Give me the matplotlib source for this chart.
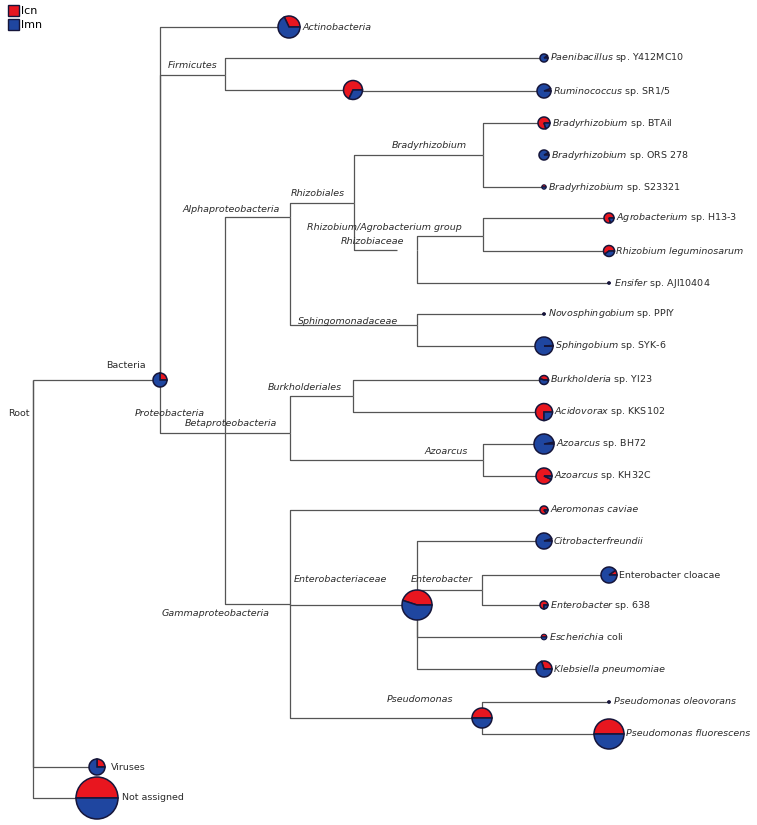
import matplotlib
matplotlib.use("Agg")
import matplotlib.pyplot as plt
from matplotlib.patches import Wedge, Patch

# ---------------- data ----------------
# taxonomy nodes (id -> parent id)
parents = {
    "Bacteria": "Root", "Viruses": "Root", "Not assigned": "Root",
    "Actinobacteria": "Bacteria", "Firmicutes": "Bacteria", "Proteobacteria": "Bacteria",
    "Paenibacillus": "Firmicutes", "FirmSub": "Firmicutes", "Ruminococcus": "FirmSub",
    "Alphaproteobacteria": "Proteobacteria", "Betaproteobacteria": "Proteobacteria",
    "Gammaproteobacteria": "Proteobacteria",
    "Rhizobiales": "Alphaproteobacteria", "Sphingomonadaceae": "Alphaproteobacteria",
    "Bradyrhizobium": "Rhizobiales", "RhizAgroGroup": "Rhizobiales",
    "BradyBTAil": "Bradyrhizobium", "BradyORS278": "Bradyrhizobium", "BradyS23321": "Bradyrhizobium",
    "Rhizobiaceae": "RhizAgroGroup", "RhizSub": "Rhizobiaceae", "Ensifer": "Rhizobiaceae",
    "Agrobacterium": "RhizSub", "RhizLeg": "RhizSub",
    "Novosphingobium": "Sphingomonadaceae", "Sphingobium": "Sphingomonadaceae",
    "Burkholderiales": "Betaproteobacteria", "Azoarcus": "Betaproteobacteria",
    "Burkholderia": "Burkholderiales", "Acidovorax": "Burkholderiales",
    "AzoBH72": "Azoarcus", "AzoKH32C": "Azoarcus",
    "Aeromonas": "Gammaproteobacteria", "Enterobacteriaceae": "Gammaproteobacteria",
    "Pseudomonas": "Gammaproteobacteria",
    "Citrobacter": "Enterobacteriaceae", "Enterobacter": "Enterobacteriaceae",
    "Ecoli": "Enterobacteriaceae", "Klebsiella": "Enterobacteriaceae",
    "EntCloacae": "Enterobacter", "Ent638": "Enterobacter",
    "PsOleovorans": "Pseudomonas", "PsFluorescens": "Pseudomonas",
}

# fraction of lcn (red) in each pie; remainder is lmn (blue)
pie_nodes = ["Bacteria", "Actinobacteria", "FirmSub", "Paenibacillus", "Ruminococcus",
             "BradyBTAil", "BradyORS278", "BradyS23321", "Agrobacterium", "RhizLeg", "Ensifer",
             "Novosphingobium", "Sphingobium", "Burkholderia", "Acidovorax", "AzoBH72", "AzoKH32C",
             "Aeromonas", "Enterobacteriaceae", "Citrobacter", "EntCloacae", "Ent638", "Ecoli",
             "Klebsiella", "Pseudomonas", "PsOleovorans", "PsFluorescens", "Viruses", "Not assigned"]
lcn_frac = [0.25, 0.32, 0.68, 0.10, 0.06,
            0.80, 0.08, 0.50, 0.80, 0.60, 0.50,
            0.50, 0.01, 0.45, 0.75, 0.03, 0.93,
            0.85, 0.45, 0.05, 0.10, 0.75, 0.50,
            0.30, 0.50, 0.50, 0.50, 0.25, 0.50]

# leaf labels: (italic part, roman part)
leaf_labels = {
    "Actinobacteria": ("Actinobacteria", ""),
    "Paenibacillus": ("Paenibacillus", "sp. Y412MC10"),
    "Ruminococcus": ("Ruminococcus", "sp. SR1/5"),
    "BradyBTAil": ("Bradyrhizobium", "sp. BTAil"),
    "BradyORS278": ("Bradyrhizobium", "sp. ORS 278"),
    "BradyS23321": ("Bradyrhizobium", "sp. S23321"),
    "Agrobacterium": ("Agrobacterium", "sp. H13-3"),
    "RhizLeg": ("Rhizobium leguminosarum", ""),
    "Ensifer": ("Ensifer", "sp. AJI10404"),
    "Novosphingobium": ("Novosphingobium", "sp. PPlY"),
    "Sphingobium": ("Sphingobium", "sp. SYK-6"),
    "Burkholderia": ("Burkholderia", "sp. YI23"),
    "Acidovorax": ("Acidovorax", "sp. KKS102"),
    "AzoBH72": ("Azoarcus", "sp. BH72"),
    "AzoKH32C": ("Azoarcus", "sp. KH32C"),
    "Aeromonas": ("Aeromonas caviae", ""),
    "Citrobacter": ("Citrobacterfreundii", ""),
    "EntCloacae": ("", "Enterobacter cloacae"),
    "Ent638": ("Enterobacter", "sp. 638"),
    "Ecoli": ("Escherichia", "coli"),
    "Klebsiella": ("Klebsiella pneumomiae", ""),
    "PsOleovorans": ("Pseudomonas oleovorans", ""),
    "PsFluorescens": ("Pseudomonas fluorescens", ""),
    "Viruses": ("", "Viruses"),
    "Not assigned": ("", "Not assigned"),
}

# internal node labels: text, italic?
inner_labels = {
    "Root": ("Root", False), "Bacteria": ("Bacteria", False),
    "Firmicutes": ("Firmicutes", True), "Proteobacteria": ("Proteobacteria", True),
    "Alphaproteobacteria": ("Alphaproteobacteria", True), "Rhizobiales": ("Rhizobiales", True),
    "Bradyrhizobium": ("Bradyrhizobium", True),
    "RhizAgroGroup": ("Rhizobium/Agrobacterium group", True), "Rhizobiaceae": ("Rhizobiaceae", True),
    "Sphingomonadaceae": ("Sphingomonadaceae", True),
    "Betaproteobacteria": ("Betaproteobacteria", True), "Burkholderiales": ("Burkholderiales", True),
    "Azoarcus": ("Azoarcus", True), "Gammaproteobacteria": ("Gammaproteobacteria", True),
    "Enterobacteriaceae": ("Enterobacteriaceae", True), "Enterobacter": ("Enterobacter", True),
    "Pseudomonas": ("Pseudomonas", True),
}

legend_labels = ["lcn", "lmn"]

# ---------------- layout (pixel positions) ----------------
pos = {
    "Root": (33, 380), "Bacteria": (160, 380), "Actinobacteria": (289, 27),
    "Firmicutes": (225, 75), "FirmSub": (353, 90), "Paenibacillus": (544, 58), "Ruminococcus": (544, 91),
    "Proteobacteria": (225, 433), "Alphaproteobacteria": (290, 217), "Rhizobiales": (354, 203),
    "Bradyrhizobium": (483, 155), "BradyBTAil": (544, 123), "BradyORS278": (544, 155), "BradyS23321": (544, 187),
    "RhizAgroGroup": (397, 250), "Rhizobiaceae": (417, 250), "RhizSub": (483, 236),
    "Agrobacterium": (609, 218), "RhizLeg": (609, 251), "Ensifer": (609, 283),
    "Sphingomonadaceae": (417, 325), "Novosphingobium": (544, 314), "Sphingobium": (544, 346),
    "Betaproteobacteria": (290, 433), "Burkholderiales": (353, 396),
    "Burkholderia": (544, 380), "Acidovorax": (544, 412),
    "Azoarcus": (483, 460), "AzoBH72": (544, 444), "AzoKH32C": (544, 476),
    "Gammaproteobacteria": (290, 604), "Aeromonas": (544, 510), "Enterobacteriaceae": (417, 605),
    "Citrobacter": (544, 541), "Enterobacter": (482, 590), "EntCloacae": (609, 575), "Ent638": (544, 605),
    "Ecoli": (544, 637), "Klebsiella": (544, 669),
    "Pseudomonas": (482, 718), "PsOleovorans": (609, 702), "PsFluorescens": (609, 734),
    "Viruses": (97, 767), "Not assigned": (97, 798),
}
radius = {
    "Bacteria": 7, "Actinobacteria": 11, "FirmSub": 9.5, "Paenibacillus": 4, "Ruminococcus": 7,
    "BradyBTAil": 6, "BradyORS278": 5, "BradyS23321": 2.2, "Agrobacterium": 5, "RhizLeg": 5.5,
    "Ensifer": 1.3, "Novosphingobium": 1.3, "Sphingobium": 9, "Burkholderia": 4.5,
    "Acidovorax": 8.5, "AzoBH72": 10, "AzoKH32C": 8, "Aeromonas": 4, "Enterobacteriaceae": 15,
    "Citrobacter": 8, "EntCloacae": 8, "Ent638": 4, "Ecoli": 2.8, "Klebsiella": 8,
    "Pseudomonas": 10, "PsOleovorans": 1.3, "PsFluorescens": 15, "Viruses": 8, "Not assigned": 21,
}
label_pad = {"Viruses": 6, "Not assigned": 4}
no_edge = {"Rhizobiaceae", "BradyORS278"}
inner_label_pos = {
    "Root": (8, 413, "left"), "Bacteria": (146, 365, "right"),
    "Firmicutes": (218, 66, "right"), "Alphaproteobacteria": (280, 209, "right"),
    "Rhizobiales": (345, 193, "right"), "Bradyrhizobium": (467, 146, "right"),
    "RhizAgroGroup": (462, 227, "right"), "Rhizobiaceae": (404, 242, "right"),
    "Sphingomonadaceae": (398, 322, "right"), "Proteobacteria": (205, 413, "right"),
    "Betaproteobacteria": (277, 424, "right"), "Burkholderiales": (342, 388, "right"),
    "Azoarcus": (468, 452, "right"), "Gammaproteobacteria": (270, 613, "right"),
    "Enterobacteriaceae": (387, 580, "right"), "Enterobacter": (473, 580, "right"),
    "Pseudomonas": (453, 700, "right"),
}

RED = "#e8161f"
BLUE = "#1f46a0"
EDGE = "#15153a"
LINE = "#555555"
TXT = "#2b2b2b"
FS = 6.8

fig = plt.figure(figsize=(7.57, 8.25), dpi=100)
ax = fig.add_axes([0, 0, 1, 1])
ax.set_xlim(0, 757)
ax.set_ylim(825, 0)
ax.axis("off")

# edges
for child, par in parents.items():
    if child in no_edge:
        continue
    px, py = pos[par]
    cx, cy = pos[child]
    ax.plot([px, px, cx], [py, cy, cy], color=LINE, lw=0.9, zorder=1, solid_capstyle="butt")

# pies (y axis inverted: screen angle a -> data angle -a)
for node, f in zip(pie_nodes, lcn_frac):
    cx, cy = pos[node]
    r = radius[node]
    a = 360.0 * f
    lw = 1.1 if r > 3 else 0.8
    if a > 0:
        ax.add_patch(Wedge((cx, cy), r, -a, 0, facecolor=RED, edgecolor=EDGE, lw=lw, zorder=3))
    if a < 360:
        ax.add_patch(Wedge((cx, cy), r, 0, 360 - a, facecolor=BLUE, edgecolor=EDGE, lw=lw, zorder=3))

# leaf labels
for node, (it, rm) in leaf_labels.items():
    cx, cy = pos[node]
    r = radius.get(node, 0)
    x = cx + max(r, 2.5) + label_pad.get(node, 2)
    if it and rm:
        s = r"$\mathit{" + it.replace(" ", r"\ ") + "}$ " + rm
        ax.text(x, cy, s, fontsize=FS, color=TXT, va="center", ha="left", zorder=4)
    elif it:
        ax.text(x, cy, it, fontsize=FS, style="italic", color=TXT, va="center", ha="left", zorder=4)
    else:
        ax.text(x, cy, rm, fontsize=FS, color=TXT, va="center", ha="left", zorder=4)

# inner labels
for node, (s, italic) in inner_labels.items():
    x, y, ha = inner_label_pos[node]
    ax.text(x, y, s, fontsize=FS, style="italic" if italic else "normal",
            color=TXT, va="center", ha=ha, zorder=4)

# legend
handles = [Patch(facecolor=RED, edgecolor=EDGE, lw=1.0), Patch(facecolor=BLUE, edgecolor=EDGE, lw=1.0)]
ax.legend(handles, legend_labels, loc="upper left", bbox_to_anchor=(8 / 757, 1 - 5 / 825),
          frameon=False, handlelength=1.0, handleheight=1.2, handletextpad=0.15,
          labelspacing=0.2, borderpad=0, borderaxespad=0, fontsize=8)

fig.savefig("out.png", dpi=100)
